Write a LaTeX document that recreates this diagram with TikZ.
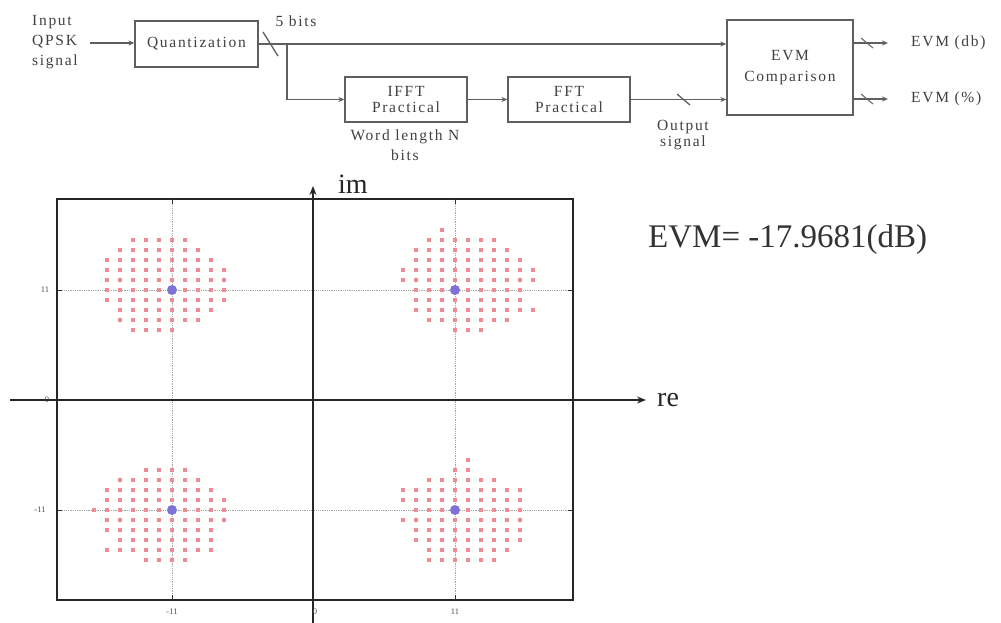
\documentclass[tikz,border=0pt]{standalone}
\usepackage{fontspec}
\setmainfont{Liberation Serif}
\newfontfamily\lbl[LetterSpace=11]{Liberation Serif}
\usetikzlibrary{arrows.meta,calc}
\definecolor{ln}{RGB}{95,95,95}
\definecolor{pinkd}{RGB}{238,140,150}
\definecolor{bluec}{RGB}{125,115,215}
\definecolor{gridc}{RGB}{165,165,165}
\begin{document}
\begin{tikzpicture}[x=1pt,y=-1pt,
  blk/.style={draw=ln,line width=1.3pt,inner sep=0pt,align=center,text=black!75,
    font=\lbl\fontsize{15.5}{16}\selectfont},
  lab/.style={inner sep=0pt,align=center,text=black!75,font=\lbl\fontsize{15.5}{20}\selectfont},
  conn/.style={draw=ln,line width=1.3pt},
  arr/.style={conn,-{Stealth[length=6pt,width=5pt]}},
  axis/.style={draw=black!85,line width=1.3pt,-{Stealth[length=9pt,width=7pt]}},
  tick/.style={inner sep=0pt,text=black!70,font=\fontsize{8.5}{8.5}\selectfont},
  big/.style={inner sep=0pt,text=black!85,font=\fontsize{28}{28}\selectfont},
  grd/.style={draw=gridc,densely dotted,line width=0.8pt},
  pd/.style={fill=pinkd},
]
\useasboundingbox[fill=white] (0,0) rectangle (1001,623);

% ---------- block diagram ----------
\node[lab,align=left,font=\lbl\fontsize{15.5}{20}\selectfont] (in) at (55,42) {Input\\QPSK\\signal};
\node[blk,minimum width=123pt,minimum height=46pt] (q) at (196.5,44) {Quantization};
\node[blk,minimum width=122pt,minimum height=45pt] (ifft) at (406,99.5) {IFFT\\Practical};
\node[blk,minimum width=122pt,minimum height=45pt] (fft) at (569,99.5) {FFT\\Practical};
\node[blk,minimum width=126pt,minimum height=95pt,font=\lbl\fontsize{15.5}{21}\selectfont] (evm) at (790,67.5) {EVM\\Comparison};

\node[lab] (bits) at (296,21) {5 bits};
\node[lab] (wl) at (405,145) {Word length N\\bits};
\node[lab,font=\lbl\fontsize{15.5}{16}\selectfont] (os) at (683,135) {Output\\signal};
\node[lab,anchor=west] (e1) at (911,43) {EVM (db)};
\node[lab,anchor=west] (e2) at (911,99) {EVM (\%)};

\coordinate (inS) at (90,43);
\coordinate (br) at (287,44);
\coordinate (o1) at (888,43);
\coordinate (o2) at (888,99);

\draw[arr] (inS) -- (q.west |- inS);
\draw[arr] (q.east) -- (q.east -| evm.west);
\draw[arr] (br) |- (ifft.west);
\draw[arr] (ifft.east) -- (fft.west);
\draw[arr] (fft.east) -- (fft.east -| evm.west);
\draw[arr] (evm.east |- o1) -- (o1);
\draw[arr] (evm.east |- o2) -- (o2);
% bus slashes
\draw[conn] (263,32) -- (278,56);
\draw[conn] (677,94) -- (690,105);
\draw[conn,line width=1pt] (861,38) -- (873,48);
\draw[conn,line width=1pt] (861,94) -- (873,104);

% ---------- constellation plot ----------
\draw[grd] (172,199) -- (172,600);
\draw[grd] (455,199) -- (455,600);
\draw[grd] (57,290) -- (573,290);
\draw[grd] (57,510) -- (573,510);

% clusters
\foreach \r/\a/\b in {-5/-3/1,-4/-4/2,-3/-5/3,-2/-5/4,-1/-5/4,0/-5/4,1/-5/4,2/-4/3,3/-4/2,4/-3/0}
  \foreach \c in {\a,...,\b}
    \fill[pd] ({172+\c*13-2.2},{290+\r*10-2}) rectangle ++(4.4,4);
\foreach \r/\a/\b in {-6/-1/-1,-5/-2/3,-4/-3/4,-3/-3/5,-2/-4/6,-1/-4/6,0/-3/5,1/-3/5,2/-3/6,3/-2/4,4/0/2}
  \foreach \c in {\a,...,\b}
    \fill[pd] ({455+\c*13-2.2},{290+\r*10-2}) rectangle ++(4.4,4);
\foreach \r/\a/\b in {-4/-2/1,-3/-4/2,-2/-5/3,-1/-5/4,0/-6/4,1/-5/4,2/-5/3,3/-4/3,4/-5/3,5/-2/1}
  \foreach \c in {\a,...,\b}
    \fill[pd] ({172+\c*13-2.2},{510+\r*10-2}) rectangle ++(4.4,4);
\foreach \r/\a/\b in {-5/1/1,-4/0/1,-3/-2/3,-2/-4/5,-1/-4/5,0/-3/5,1/-4/5,2/-3/5,3/-3/5,4/-2/4,5/-2/3}
  \foreach \c in {\a,...,\b}
    \fill[pd] ({455+\c*13-2.2},{510+\r*10-2}) rectangle ++(4.4,4);
\foreach \p in {(172,290),(455,290),(172,510),(455,510)}
  \fill[bluec] \p circle (5);

% frame
\draw[black!85,line width=1.5pt] (57,199) rectangle (573,600);
\foreach \x in {172,313,455} {
  \draw[black!80,line width=0.8pt] (\x,199) -- (\x,204);
  \draw[black!80,line width=0.8pt] (\x,600) -- (\x,595);
}
\foreach \y in {290,400,510} {
  \draw[black!80,line width=0.8pt] (57,\y) -- (62,\y);
  \draw[black!80,line width=0.8pt] (573,\y) -- (568,\y);
}

% axes
\coordinate (xl) at (10,400);
\coordinate (xr) at (646,400);
\coordinate (yb) at (313,623);
\coordinate (yt) at (313,186);
\draw[axis] (xl) -- (xr);
\draw[axis] (yb) -- (yt);
\node[big,anchor=base west] (re) at (657,406) {re};
\node[big,anchor=base west] (im) at (338,193) {im};

% tick labels
\node[tick] (t1) at (45,290) {11};
\node[tick] (t0) at (47,400) {0};
\node[tick] (t2) at (40,510) {-11};
\node[tick] (b1) at (172,612) {-11};
\node[tick] (b0) at (315,612) {0};
\node[tick] (b2) at (455,612) {11};

% EVM value
\node[inner sep=0pt,anchor=base west,text=black!80,font=\fontsize{33}{33}\selectfont] (val) at (648,247) {EVM= -17.9681(dB)};
\end{tikzpicture}
\end{document}
